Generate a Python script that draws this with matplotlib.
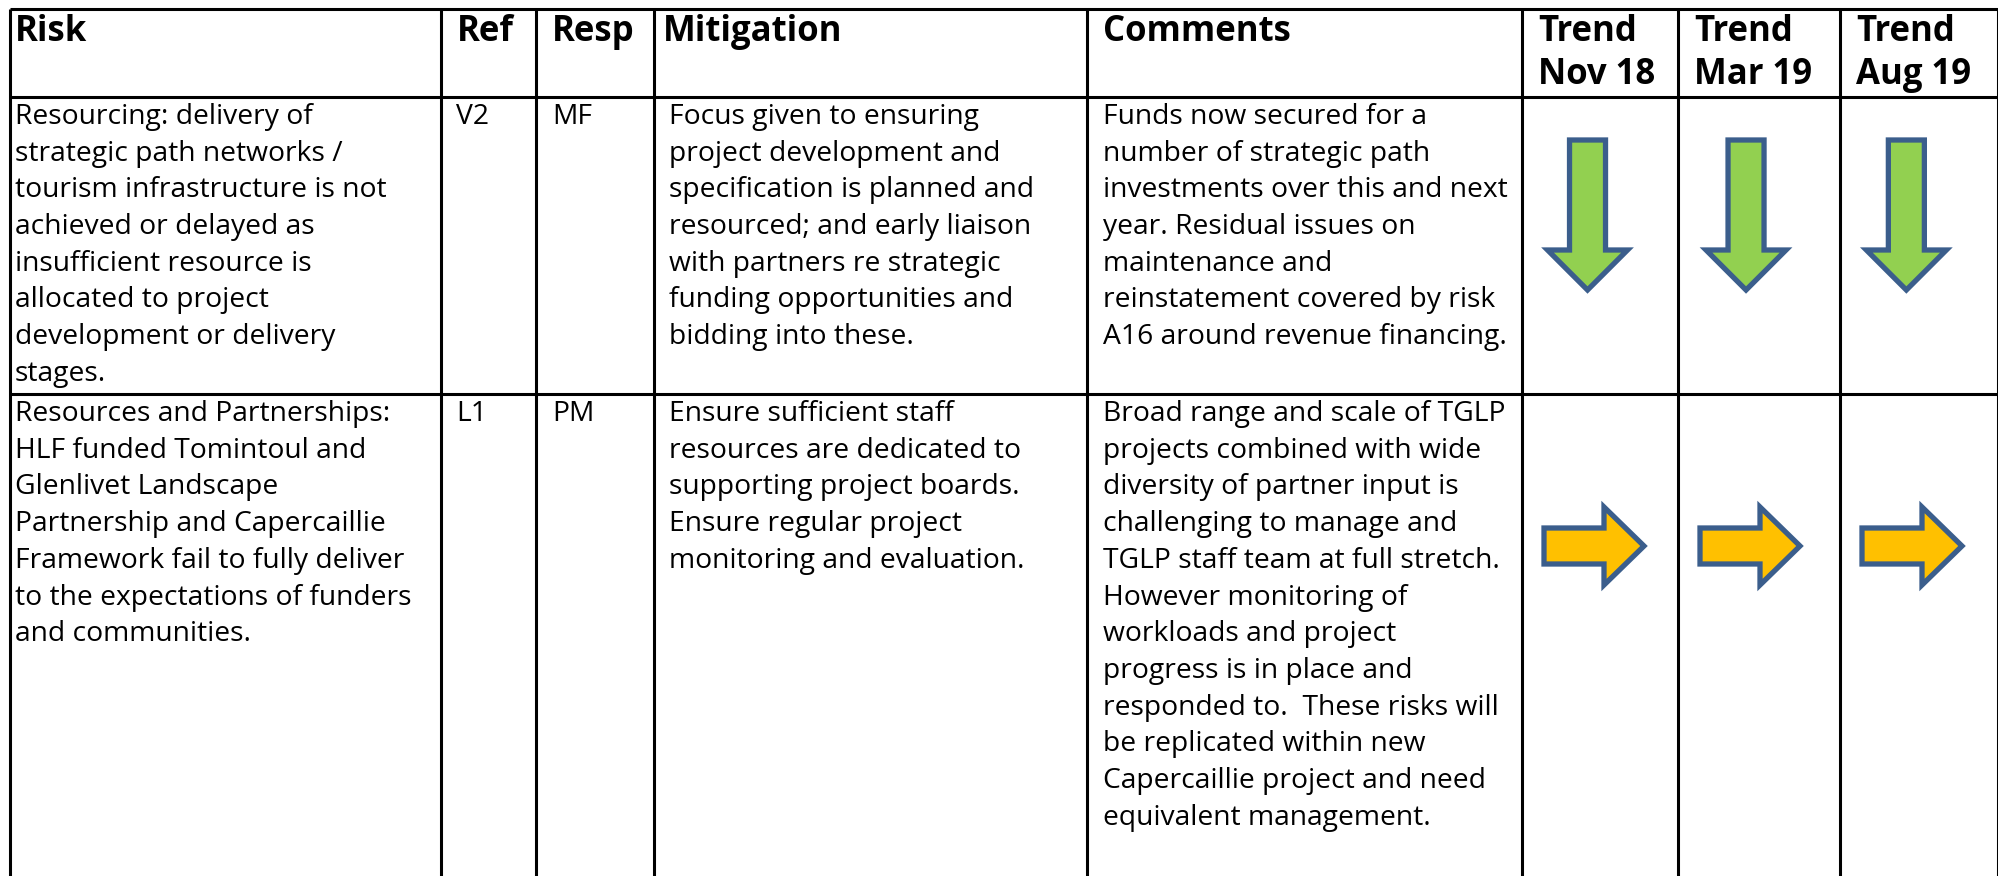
import matplotlib.pyplot as plt
from matplotlib.patches import Polygon

plt.rcParams['font.family'] = ['Open Sans', 'DejaVu Sans']

# table content
headers = ["Risk", "Ref", "Resp", "Mitigation", "Comments",
           "Trend\nNov 18", "Trend\nMar 19", "Trend\nAug 19"]

risk = [
    ["Resourcing: delivery of", "strategic path networks /",
     "tourism infrastructure is not", "achieved or delayed as",
     "insufficient resource is", "allocated to project",
     "development or delivery", "stages."],
    ["Resources and Partnerships:", "HLF funded Tomintoul and",
     "Glenlivet Landscape", "Partnership and Capercaillie",
     "Framework fail to fully deliver", "to the expectations of funders",
     "and communities."],
]
ref = ["V2", "L1"]
resp = ["MF", "PM"]
mitigation = [
    ["Focus given to ensuring", "project development and",
     "specification is planned and", "resourced; and early liaison",
     "with partners re strategic", "funding opportunities and",
     "bidding into these."],
    ["Ensure sufficient staff", "resources are dedicated to",
     "supporting project boards.", "Ensure regular project",
     "monitoring and evaluation."],
]
comments = [
    ["Funds now secured for a", "number of strategic path",
     "investments over this and next", "year. Residual issues on",
     "maintenance and", "reinstatement covered by risk",
     "A16 around revenue financing."],
    ["Broad range and scale of TGLP", "projects combined with wide",
     "diversity of partner input is", "challenging to manage and",
     "TGLP staff team at full stretch.", "However monitoring of",
     "workloads and project", "progress is in place and",
     "responded to.  These risks will", "be replicated within new",
     "Capercaillie project and need", "equivalent management."],
]
trend = [["down", "down", "down"], ["right", "right", "right"]]

# geometry in pixels
col_x = [10, 441, 536, 654, 1087, 1522, 1678, 1840, 1998]
row_y = [9, 97, 394, 876]
pad = [5, 15, 16, 15, 16, 15, 15, 15]
head_pad = [5, 16, 16, 9, 16, 16, 16, 16]
line_h = 36.7

fig = plt.figure(figsize=(19.99, 8.76), dpi=100)
ax = fig.add_axes([0, 0, 1, 1])
ax.set_xlim(0, 1999)
ax.set_ylim(876, 0)
ax.axis('off')

lw = 2.2
for x in col_x:
    ax.plot([x, x], [row_y[0], row_y[-1]], color='black', lw=lw, solid_capstyle='butt')
for y in row_y[:-1]:
    ax.plot([col_x[0], col_x[-1]], [y, y], color='black', lw=lw, solid_capstyle='butt')

# headers
for i, h in enumerate(headers):
    for k, line in enumerate(h.split("\n")):
        ax.text(col_x[i] + head_pad[i], 41 + k * 43, line, fontsize=25,
                fontweight='bold', va='baseline', ha='left', color='black')

def draw_lines(ci, y0, lines):
    for k, line in enumerate(lines):
        ax.text(col_x[ci] + pad[ci], y0 + k * line_h, line, fontsize=20.3,
                va='baseline', ha='left', color='black')

def draw_arrow(ci, ri, kind):
    left, right = col_x[ci], col_x[ci + 1]
    top = row_y[ri]
    if kind == "down":
        cx = left + 0.42 * (right - left)
        t = top + 43
        pts = [(cx - 18, t), (cx + 18, t), (cx + 18, t + 110), (cx + 40, t + 110),
               (cx, t + 150), (cx - 40, t + 110), (cx - 18, t + 110)]
        fc = '#92D050'
    else:
        tx = left + 22
        cy = top + 152
        pts = [(tx, cy - 18), (tx + 60, cy - 18), (tx + 60, cy - 39), (tx + 100, cy),
               (tx + 60, cy + 39), (tx + 60, cy + 18), (tx, cy + 18)]
        fc = '#FFC000'
    ax.add_patch(Polygon(pts, closed=True, facecolor=fc, edgecolor='#3B5E8C',
                         lw=3.8, joinstyle='miter'))

for r in range(2):
    y0 = row_y[r + 1] + 27
    draw_lines(0, y0, risk[r])
    draw_lines(1, y0, [ref[r]])
    draw_lines(2, y0, [resp[r]])
    draw_lines(3, y0, mitigation[r])
    draw_lines(4, y0, comments[r])
    for j in range(3):
        draw_arrow(5 + j, r + 1, trend[r][j])

plt.savefig("out.png", dpi=100)
